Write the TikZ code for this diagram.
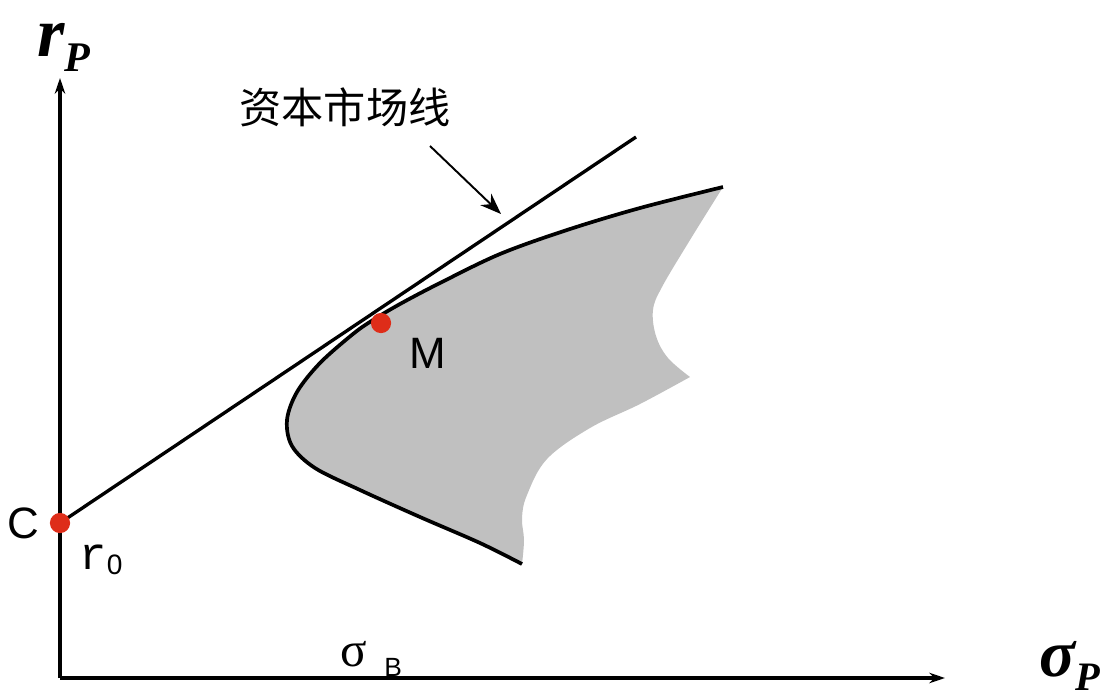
\documentclass[tikz,border=0pt]{standalone}
\usepackage{fontspec}
\setmainfont{Liberation Serif}
\newfontfamily\cjk{Noto Sans CJK SC}
\newfontfamily\arialf{Liberation Sans}
\newfontfamily\monof{Liberation Mono}
\usetikzlibrary{arrows.meta}
\definecolor{dotred}{RGB}{222,45,25}
\definecolor{regiongray}{RGB}{192,192,192}
\newcommand{\fs}[1]{\fontsize{#1}{#1}\selectfont}
\tikzset{
  axis/.style={line width=2.2pt, -{Stealth[length=9pt,width=6pt]}},
  cml/.style={line width=1.9pt},
  frontier/.style={line width=2.1pt, line join=round},
  pointer/.style={line width=1.1pt, -{Stealth[length=12pt,width=9pt]}},
  dot/.style={circle, fill=dotred, inner sep=0pt, minimum size=11.5pt},
  lbl/.style={inner sep=0pt, anchor=base}
}
\begin{document}
\begin{tikzpicture}[x=0.02cm,y=-0.02cm]
\useasboundingbox (0,0) rectangle (1110,700);
% feasible region
\fill[regiongray]
  plot[smooth,tension=0.55] coordinates {(723,187) (640,208) (567,230) (500,254) (440,283) (400,304) (373,320) (353,334) (320,363) (297,392) (287,420) (292,446) (315,468) (360,490) (420,517) (480,543) (522,564)}
  -- plot[smooth,tension=0.6] coordinates {(522,564) (524,540) (522,518) (527,495) (547,459) (590,428) (640,404) (690,377)}
  -- plot[smooth,tension=0.6] coordinates {(690,377) (668,358) (656,336) (653,310) (662,287) (690,240) (723,187)}
  -- cycle;
\draw[frontier] plot[smooth,tension=0.55] coordinates {(723,187) (640,208) (567,230) (500,254) (440,283) (400,304) (373,320) (353,334) (320,363) (297,392) (287,420) (292,446) (315,468) (360,490) (420,517) (480,543) (522,564)};
% axes
\coordinate (O) at (60,678);
\coordinate (ytip) at (60,78);
\coordinate (xtip) at (945,678);
\draw[axis] (O) -- (ytip);
\draw[axis] (O) -- (xtip);
% capital market line
\coordinate (Cpt) at (60,523);
\coordinate (cmlend) at (636,137);
\draw[cml] (Cpt) -- (cmlend);
% pointer
\coordinate (ps) at (430,146);
\coordinate (pe) at (501,214);
\draw[pointer] (ps) -- (pe);
\node[anchor=center, inner sep=0pt] (cmllabel) at (345,107) {\cjk\fs{24}资本市场线};
% points
\node[dot] (Cdot) at (Cpt) {};
\node[dot] (Mdot) at (381,323) {};
\node[anchor=center, inner sep=0pt] (Clabel) at (23,523) {\arialf\fs{25}C};
\node[anchor=center, inner sep=0pt] (Mlabel) at (428,353) {\arialf\fs{25}M};
\node[lbl] (r0) at (101,569) {\monof\fs{26}r\raisebox{-3pt}{\arialf\fs{16}0}};
\node[lbl, anchor=base west] (sigB) at (340,666) {\fs{28}σ\hspace{10pt}\raisebox{-6pt}{\arialf\fs{15}B}};
% axis labels
\node[lbl] (rP) at (64,56) {\bfseries\itshape\fs{40}r\raisebox{-9pt}{\fs{24}P}};
\node[lbl] (sigP) at (1070,676) {\bfseries\itshape\fs{38}σ\raisebox{-8pt}{\fs{23}P}};
\end{tikzpicture}
\end{document}
